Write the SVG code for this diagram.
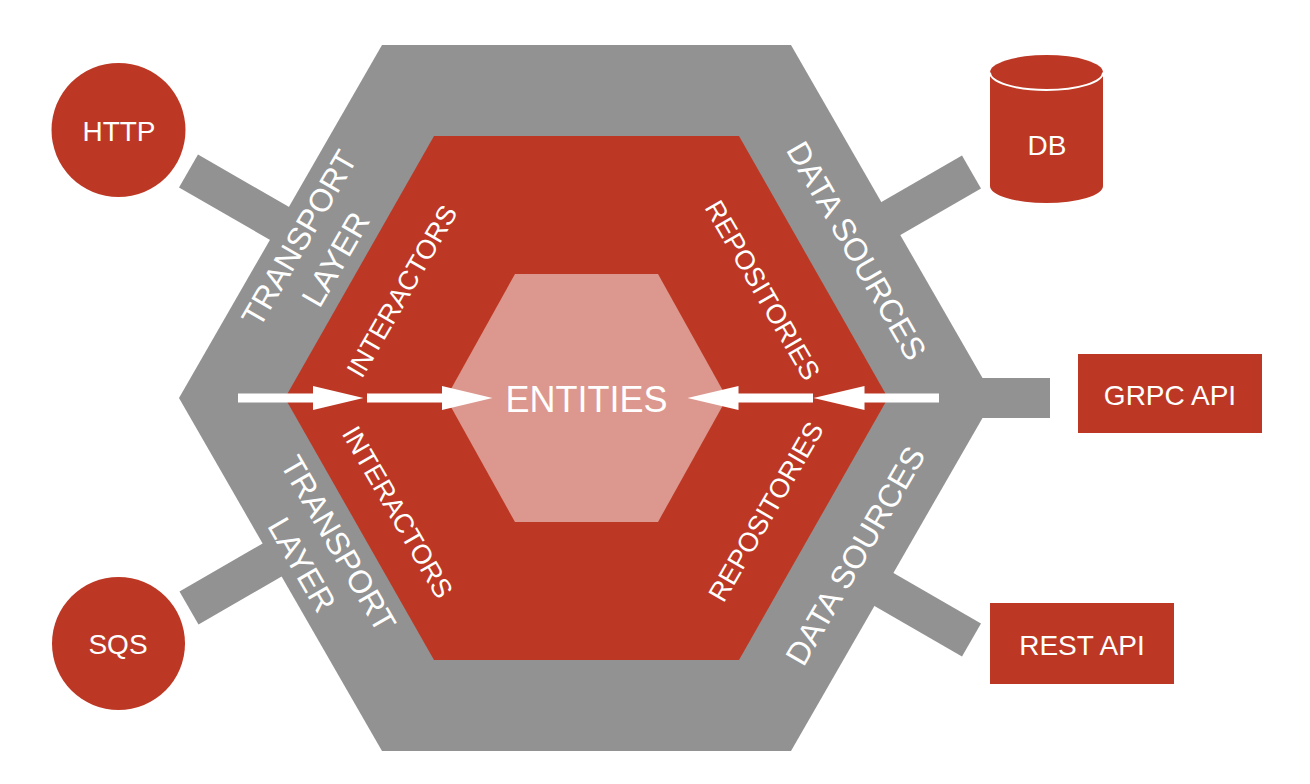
<svg xmlns="http://www.w3.org/2000/svg" width="1310" height="784" viewBox="0 0 1310 784">
  <style>
    text { font-family: "Liberation Sans", Arial, Helvetica, sans-serif; fill: #ffffff; text-anchor: middle; }
    .gray { fill: #929292; }
    .red { fill: #BD3824; }
    .pink { fill: #DC988E; }
    .bar { stroke: #929292; stroke-width: 38; stroke-linecap: butt; fill: none; }
    .arrow { stroke: #ffffff; stroke-width: 9; stroke-linecap: butt; fill: none; marker-end: url(#head); }
    .node { font-size: 28px; }
    .outer { font-size: 32px; }
    .inner { font-size: 27px; }
  </style>
  <defs>
    <marker id="head" markerUnits="userSpaceOnUse" markerWidth="52" markerHeight="24" refX="0.5" refY="12" orient="auto">
      <path d="M0,0 L51,12 L0,24 Z" fill="#ffffff"/>
    </marker>
  </defs>
  <rect width="1310" height="784" fill="#ffffff"/>

  <g id="outer-hex">
    <polygon class="gray" points="382,45 791,45 994,398 791,751 382,751 179,398"/>
    <text class="outer" transform="translate(317,248.5) rotate(-60)"><tspan x="0" y="-9.5">TRANSPORT</tspan><tspan x="0" y="32.5">LAYER</tspan></text>
    <text class="outer" transform="translate(320.5,554) rotate(60)"><tspan x="0" y="-9.5">TRANSPORT</tspan><tspan x="0" y="32.5">LAYER</tspan></text>
    <text class="outer" transform="translate(857,250.5) rotate(60)" y="11.5">DATA SOURCES</text>
    <text class="outer" transform="translate(855,555.5) rotate(-60)" y="11.5">DATA SOURCES</text>
  </g>

  <g id="red-hex">
    <polygon class="red" points="434,136 739,136 888,398 739,660 434,660 285,398"/>
    <text class="inner" transform="translate(401.5,291) rotate(-60)" y="9.7">INTERACTORS</text>
    <text class="inner" transform="translate(398,512) rotate(60)" y="9.7">INTERACTORS</text>
    <text class="inner" transform="translate(763,290) rotate(60)" y="9.7">REPOSITORIES</text>
    <text class="inner" transform="translate(765.5,511.5) rotate(-60)" y="9.7">REPOSITORIES</text>
  </g>

  <g id="entities">
    <polygon class="pink" points="515,274 658,274 727,398 658,522 515,522 446,398"/>
    <text x="586.5" y="412" font-size="36">ENTITIES</text>
  </g>

  <g id="http">
    <circle class="red" cx="118.5" cy="130" r="67"/>
    <text class="node" x="119" y="141">HTTP</text>
  </g>

  <g id="sqs">
    <circle class="red" cx="118.5" cy="643.5" r="66.5"/>
    <text class="node" x="118" y="654">SQS</text>
  </g>

  <g id="db">
    <path class="red" d="M990,72.5 L990,186 A56.5,17 0 0 0 1103,186 L1103,72.5 Z"/>
    <ellipse class="red" cx="1046.5" cy="72.5" rx="56.5" ry="17.5"/>
    <path d="M990,72.5 A56.5,17.5 0 0 0 1103,72.5" fill="none" stroke="#ffffff" stroke-width="2"/>
    <text class="node" x="1047" y="155">DB</text>
  </g>

  <g id="grpc-api">
    <rect class="red" x="1078" y="354" width="184" height="79"/>
    <text class="node" x="1170" y="405">GRPC API</text>
  </g>

  <g id="rest-api">
    <rect class="red" x="990" y="603" width="184" height="81"/>
    <text class="node" x="1082" y="655">REST API</text>
  </g>

  <g id="connectors">
    <line class="bar" x1="188.5" y1="171" x2="284" y2="226"/>
    <line class="bar" x1="189" y1="608" x2="277.3" y2="557"/>
    <line class="bar" x1="971.5" y1="172" x2="886.6" y2="221"/>
    <line class="bar" x1="971.5" y1="640" x2="878.8" y2="586.5"/>
    <line class="bar" x1="1050" y1="398" x2="975" y2="398" style="stroke-width:40"/>
    <line class="arrow" x1="238" y1="398" x2="313" y2="398"/>
    <line class="arrow" x1="367" y1="398" x2="442" y2="398"/>
    <line class="arrow" x1="939" y1="398" x2="864" y2="398"/>
    <line class="arrow" x1="813" y1="398" x2="738" y2="398"/>
  </g>
</svg>
